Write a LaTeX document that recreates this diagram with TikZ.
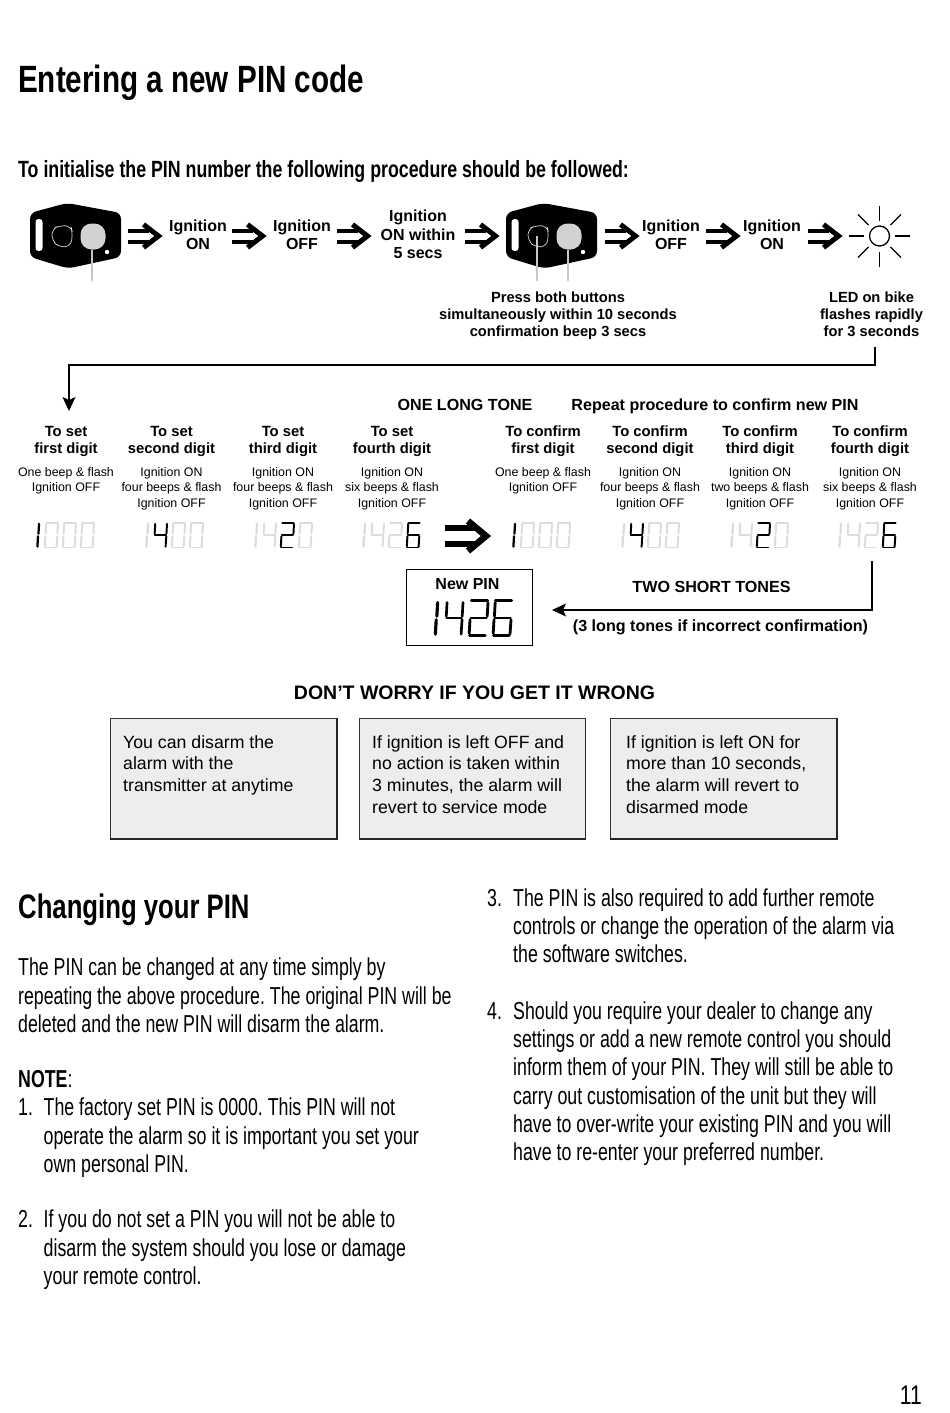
\documentclass[tikz,border=0pt]{standalone}
\usepackage{fontspec}
\setmainfont{Liberation Sans}
\newfontfamily\narrowfont[FakeStretch=0.725]{Liberation Sans}
\newfontfamily\titlefont[FakeStretch=0.78]{Liberation Sans}
\newfontfamily\subfont[FakeStretch=0.756]{Liberation Sans}
\usetikzlibrary{arrows.meta}
\definecolor{lcdoff}{HTML}{DCDCDC}
\definecolor{boxfill}{HTML}{EDEDED}
\definecolor{btn}{HTML}{D2D2D2}
\tikzset{
  x=1pt,y=-1pt,
  lab/.style={align=center,font=\fontsize{16}{18.5}\selectfont\bfseries,inner sep=0pt},
  capt/.style={align=center,font=\fontsize{14.7}{17}\selectfont\bfseries,inner sep=0pt},
  hd/.style={align=center,font=\fontsize{14.8}{17}\selectfont\bfseries,inner sep=0pt},
  sm/.style={align=center,font=\fontsize{12.4}{15.5}\selectfont,inner sep=0pt},
  tone/.style={anchor=base,font=\fontsize{16.1}{18}\selectfont\bfseries,inner sep=0pt},
  note/.style={align=left,anchor=north west,font=\fontsize{17.7}{21.7}\selectfont,inner sep=0pt},
  notebox/.style={draw=black!80,line width=0.9pt,fill=boxfill,minimum width=226pt,minimum height=120pt,anchor=north west,inner sep=0pt},
  edge3d/.style={draw=black!85,line width=1.8pt},
  body/.style={align=left,anchor=north west,inner sep=0pt,font=\narrowfont\fontsize{24.5}{28.2}\selectfont},
  conn/.style={line width=1.3pt},
  guide/.style={draw=black!22,line width=1.5pt},
}
\newcommand{\segdraw}[6]{%
  \begin{scope}[shift={(#1,#2)},x=#3pt,y=-#4pt,line width=0.14*#3pt,draw=#5,line cap=round]
    \foreach \s in {#6}{%
      \if\s a\draw (0.17,0.02)--(0.98,0.02);\fi
      \if\s b\draw (1.0,0.07)--(0.96,0.45);\fi
      \if\s c\draw (0.95,0.55)--(0.9,0.95);\fi
      \if\s d\draw (0.08,0.98)--(0.86,0.98);\fi
      \if\s e\draw (0.06,0.93)--(0.1,0.55);\fi
      \if\s f\draw (0.12,0.45)--(0.16,0.07);\fi
      \if\s g\draw (0.14,0.5)--(0.92,0.5);\fi
    }
  \end{scope}}
\newcommand{\segone}[5]{%
  \begin{scope}[shift={(#1,#2)},x=#3pt,y=-#4pt,line width=0.15*#3pt,draw=#5,line cap=round]
    \draw (0.27,0.07)--(0.23,0.45);
    \draw (0.2,0.55)--(0.16,0.95);
  \end{scope}}
\newcommand{\rowA}[1]{\segone{#1-1}{522}{15}{26}{black}
  \segdraw{#1+8}{522}{14}{26}{lcdoff}{a,b,c,d,e,f}\segdraw{#1+26}{522}{14}{26}{lcdoff}{a,b,c,d,e,f}\segdraw{#1+44}{522}{14}{26}{lcdoff}{a,b,c,d,e,f}}
\newcommand{\rowB}[1]{\segone{#1-1}{522}{15}{26}{lcdoff}
  \segdraw{#1+8}{522}{14}{26}{black}{b,c,f,g}\segdraw{#1+26}{522}{14}{26}{lcdoff}{a,b,c,d,e,f}\segdraw{#1+44}{522}{14}{26}{lcdoff}{a,b,c,d,e,f}}
\newcommand{\rowC}[1]{\segone{#1-1}{522}{15}{26}{lcdoff}
  \segdraw{#1+8}{522}{14}{26}{lcdoff}{b,c,f,g}\segdraw{#1+26}{522}{14}{26}{black}{a,b,g,e,d}\segdraw{#1+44}{522}{14}{26}{lcdoff}{a,b,c,d,e,f}}
\newcommand{\rowD}[1]{\segone{#1-1}{522}{15}{26}{lcdoff}
  \segdraw{#1+8}{522}{14}{26}{lcdoff}{b,c,f,g}\segdraw{#1+26}{522}{14}{26}{lcdoff}{a,b,g,e,d}\segdraw{#1+44}{522}{14}{26}{black}{a,c,d,e,f,g}}
\newcommand{\numstrut}{\vphantom{Tfhl}}
\tikzset{
  openarrow/.pic={
    \draw[line width=4pt] (0,-5.5)--(21,-5.5) (0,5.5)--(21,5.5);
    \draw[line width=5pt,miter limit=10] (15.5,-11.5)--(30.5,0)--(15.5,11.5);
  },
  bigopenarrow/.pic={
    \draw[line width=5.5pt] (0,-8)--(31,-8) (0,8)--(31,8);
    \draw[line width=6.5pt,miter limit=10] (23,-15)--(41,0)--(23,15);
  },
  fob/.pic={
    \fill[black,rounded corners=6pt] (0,10)--(37,0)--(91,10)--(91,54)--(38,65.5)--(0,54)--cycle;
    \fill[white,rounded corners=3pt] (5.5,16) rectangle (12.5,48);
    \draw[white!85!black,line width=0.7pt,rounded corners=6pt] (22,26)--(30,22.5)--(41,23)--(42.5,30)--(41,43)--(30,44.5)--(22,38)--cycle;
    \fill[btn,rounded corners=11pt] (50.5,20.5) rectangle (75.5,46.5);
    \fill[white] (77,49) circle (2.2pt);
  }
}
\begin{document}
\frenchspacing
\begin{tikzpicture}
\useasboundingbox (0,0) rectangle (950,1413);
\fill[white] (0,0) rectangle (950,1413);

\node[anchor=base west,inner sep=0pt,font=\titlefont\fontsize{38}{40}\selectfont\bfseries] (title) at (18,92.5) {Entering a new PIN code};
\node[anchor=base west,inner sep=0pt,font=\subfont\fontsize{23.5}{26}\selectfont\bfseries] (sub) at (18,177) {To initialise the PIN number the following procedure should be followed:};

\pic at (30,203) {fob};
\draw[guide] (92,250)--(92,281);
\pic at (128,236) {openarrow};
\node[lab] (ig1) at (198,235) {Ignition\\ON};
\pic at (232,236) {openarrow};
\node[lab] (ig2) at (302,235) {Ignition\\OFF};
\pic at (337,236) {openarrow};
\node[lab] (ig3) at (418,234.5) {Ignition\\ON within\\5 secs};
\pic at (465,236) {openarrow};
\pic at (506,203) {fob};
\draw[guide] (537,236)--(537,281);
\draw[guide] (568,250)--(568,281);
\pic at (605,236) {openarrow};
\node[lab] (ig4) at (671,235) {Ignition\\OFF};
\pic at (706,236) {openarrow};
\node[lab] (ig5) at (772,235) {Ignition\\ON};
\pic at (808,236) {openarrow};
\node[circle,draw,line width=1.3pt,minimum size=20pt,inner sep=0pt] (sun) at (879.5,236) {};
\foreach \a in {0,45,...,315}{\draw[line width=1.1pt] (sun)++(\a:15.5pt)--++(\a:15pt);}

\node[capt] (press) at (558,316) {Press both buttons\\simultaneously within 10 seconds\\confirmation beep 3 secs};
\node[capt] (led) at (871.5,314) {LED on bike\\flashes rapidly\\for 3 seconds};

\coordinate (c1) at (875,347);
\coordinate (c2) at (69,411);
\draw[conn,-{Stealth[length=14pt,width=13pt,inset=3pt]}] (c1)--(875,365)--(69,365)--(c2);

\node[tone] (long) at (465,410.5) {ONE LONG TONE};
\node[tone] (rep) at (715,410.5) {Repeat procedure to confirm new PIN};

\node[hd] (h1) at (66,441.5) {To set\\first digit};
\node[hd] (h2) at (171.5,441.5) {To set\\second digit};
\node[hd] (h3) at (283,441.5) {To set\\third digit};
\node[hd] (h4) at (392,441.5) {To set\\fourth digit};
\node[hd] (h5) at (543,441.5) {To confirm\\first digit};
\node[hd] (h6) at (650,441.5) {To confirm\\second digit};
\node[hd] (h7) at (760,441.5) {To confirm\\third digit};
\node[hd] (h8) at (870,441.5) {To confirm\\fourth digit};

\node[sm,anchor=north] (s1) at (66,467) {One beep \& flash\\Ignition OFF};
\node[sm,anchor=north] (s2) at (171.5,467) {Ignition ON\\four beeps \& flash\\Ignition OFF};
\node[sm,anchor=north] (s3) at (283,467) {Ignition ON\\four beeps \& flash\\Ignition OFF};
\node[sm,anchor=north] (s4) at (392,467) {Ignition ON\\six beeps \& flash\\Ignition OFF};
\node[sm,anchor=north] (s5) at (543,467) {One beep \& flash\\Ignition OFF};
\node[sm,anchor=north] (s6) at (650,467) {Ignition ON\\four beeps \& flash\\Ignition OFF};
\node[sm,anchor=north] (s7) at (760,467) {Ignition ON\\two beeps \& flash\\Ignition OFF};
\node[sm,anchor=north] (s8) at (870,467) {Ignition ON\\six beeps \& flash\\Ignition OFF};

\rowA{36}\rowB{145}\rowC{254}\rowD{362}
\rowA{512}\rowB{621}\rowC{730}\rowD{838}
\pic at (445,536) {bigopenarrow};

\node[draw,line width=1pt,minimum width=126pt,minimum height=76pt,inner sep=0pt] (newpin) at (469,607) {};
\node[inner sep=0pt,font=\fontsize{16}{18}\selectfont\bfseries] (newpinlab) at (467.5,584) {New PIN};
\segone{432}{600}{21}{36}{black}
\segdraw{444}{600}{19}{36}{black}{b,c,f,g}
\segdraw{468}{600}{20}{36}{black}{a,b,g,e,d}
\segdraw{492}{600}{20}{36}{black}{a,c,d,e,f,g}

\coordinate (c3) at (872,561);
\coordinate (c4) at (552,610);
\draw[conn,-{Stealth[length=14pt,width=13pt,inset=3pt]}] (c3)--(872,610)--(c4);
\node[tone] (two) at (711.5,592.5) {TWO SHORT TONES};
\node[tone] (three) at (720.5,631.5) {(3 long tones if incorrect confirmation)};

\node[inner sep=0pt,font=\fontsize{19.5}{22}\selectfont\bfseries] (dont) at (474.5,693) {DON’T WORRY IF YOU GET IT WRONG};

\node[notebox] (b1) at (110,718) {};
\node[notebox] (b2) at (358.5,718) {};
\node[notebox] (b3) at (610,718) {};
\foreach \b in {b1,b2,b3}{\draw[edge3d] (\b.north east)--(\b.south east)--(\b.south west);}
\node[note] (t1) at (123,735) {You can disarm the\\alarm with the\\transmitter at anytime};
\node[note] (t2) at (372,735) {If ignition is left OFF and\\no action is taken within\\3 minutes, the alarm will\\revert to service mode};
\node[note] (t3) at (626,735) {If ignition is left ON for\\more than 10 seconds,\\the alarm will revert to\\disarmed mode};

\node[anchor=base west,inner sep=0pt,font=\subfont\fontsize{34}{36}\selectfont\bfseries] (chg) at (18,918) {Changing your PIN};
\node[body] (p1) at (18,958) {The PIN can be changed at any time simply by\\repeating the above procedure. The original PIN will be\\deleted and the new PIN will disarm the alarm.};
\node[body] (noteh) at (18,1070) {\numstrut\textbf{NOTE}:};
\node[body] (n1) at (18,1098) {\numstrut 1.};
\node[body] (l1) at (43.5,1098) {\numstrut The factory set PIN is 0000. This PIN will not\\operate the alarm so it is important you set your\\own personal PIN.};
\node[body] (n2) at (18,1210) {\numstrut 2.};
\node[body] (l2) at (43.5,1210) {\numstrut If you do not set a PIN you will not be able to\\disarm the system should you lose or damage\\your remote control.};
\node[body] (n3) at (487,888.5) {\numstrut 3.};
\node[body] (l3) at (513,888.5) {\numstrut The PIN is also required to add further remote\\controls or change the operation of the alarm via\\the software switches.};
\node[body] (n4) at (487,1001.5) {\numstrut 4.};
\node[body] (l4) at (513,1001.5) {\numstrut Should you require your dealer to change any\\settings or add a new remote control you should\\inform them of your PIN. They will still be able to\\carry out customisation of the unit but they will\\have to over-write your existing PIN and you will\\have to re-enter your preferred number.};
\node[anchor=base east,inner sep=0pt,font=\titlefont\fontsize{27}{28}\selectfont] (pg) at (922,1404) {11};
\end{tikzpicture}
\end{document}
